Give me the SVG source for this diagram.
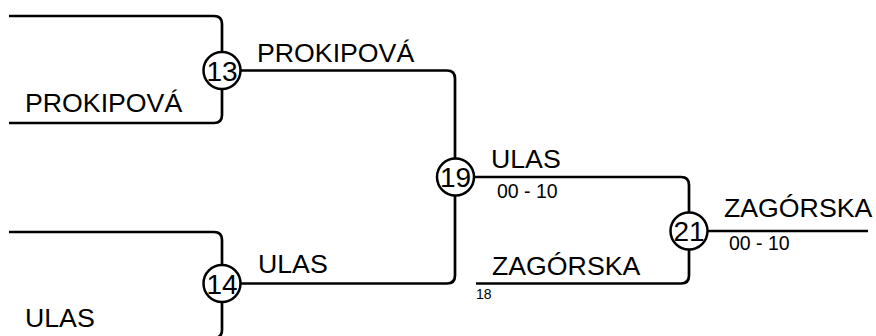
<svg xmlns="http://www.w3.org/2000/svg" width="876" height="336" viewBox="0 0 876 336">
<style>
.c{fill:none;stroke:#000;stroke-width:2.7;stroke-linecap:butt}
.n circle{fill:#fff;stroke:#000;stroke-width:2.5}
.n text{font-family:"Liberation Sans",Arial,sans-serif;font-size:28px;text-anchor:middle;fill:#000}
.l{font-family:"Liberation Sans",Arial,sans-serif;font-size:26.7px;fill:#000}
.s{font-family:"Liberation Sans",Arial,sans-serif;font-size:19.5px;fill:#000}
.t{font-family:"Liberation Sans",Arial,sans-serif;font-size:14px;fill:#000}
</style>
<rect width="876" height="336" fill="#fff"/>
<g id="connectors">
<path class="c" d="M9,16 H214 Q222,16 222,24 V115 Q222,123 214,123 H9"/>
<path class="c" d="M9,232 H214 Q222,232 222,240 V330 Q222,338 214,338 H9"/>
<path class="c" d="M222,70.5 H447 Q455,70.5 455,78.5 V177"/>
<path class="c" d="M222,283.5 H447 Q455,283.5 455,275.5 V177"/>
<path class="c" d="M455,177 H681 Q689,177 689,185 V231"/>
<path class="c" d="M476,283.5 H681 Q689,283.5 689,275.5 V231"/>
<path class="c" d="M689,231 H868"/>
</g>
<g id="n13" class="n"><circle cx="222" cy="70.5" r="18.5"/><text x="222" y="80.5">13</text></g>
<g id="n14" class="n"><circle cx="222" cy="283.5" r="18.5"/><text x="222" y="293.5">14</text></g>
<g id="n19" class="n"><circle cx="455.5" cy="177" r="18.5"/><text x="455.5" y="187">19</text></g>
<g id="n21" class="n"><circle cx="689" cy="231" r="18.5"/><text x="689" y="241">21</text></g>
<g id="labels">
<text class="l" x="257" y="61.5">PROKIPOVÁ</text>
<text class="l" x="25" y="112">PROKIPOVÁ</text>
<text class="l" x="258" y="273">ULAS</text>
<text class="l" x="25" y="327">ULAS</text>
<text class="l" x="491" y="168">ULAS</text>
<text class="s" x="497" y="198">00 - 10</text>
<text class="l" x="724" y="217">ZAGÓRSKA</text>
<text class="s" x="729" y="250">00 - 10</text>
<text class="l" x="492" y="275">ZAGÓRSKA</text>
<text class="t" x="476" y="299">18</text>
</g>
</svg>
